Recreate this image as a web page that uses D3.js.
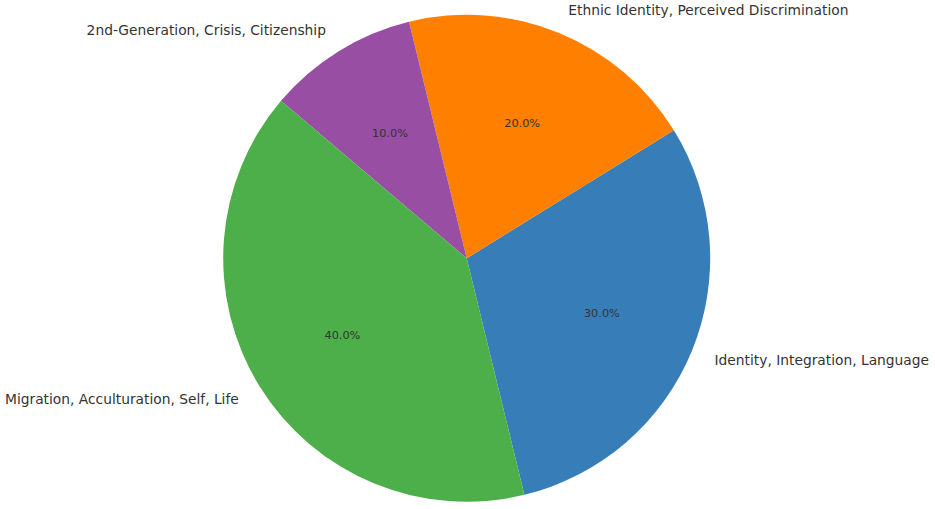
<!DOCTYPE html>
<html>
<head>
<meta charset="utf-8">
<script src="https://cdn.jsdelivr.net/npm/d3@7"></script>
<style>
  html, body { margin: 0; padding: 0; background: #fff; }
  svg { display: block; }
</style>
</head>
<body>
<svg id="chart" width="935" height="509"></svg>
<script>
const categories = [
  "Identity, Integration, Language",
  "Ethnic Identity, Perceived Discrimination",
  "2nd-Generation, Crisis, Citizenship",
  "Migration, Acculturation, Self, Life"
];
const values = [30, 20, 10, 40];
const colors = ["#377eb8", "#ff7f00", "#984ea3", "#4daf4a"];

const W = 935, H = 509;
const cx = 466.7, cy = 258.3, R = 243.5;
const startDeg = -76.3; // matplotlib-style start angle (counterclockwise from east)

const svg = d3.select("#chart");
const g = svg.append("g").attr("transform", `translate(${cx},${cy})`);

const data = categories.map((c, i) => ({ label: c, value: values[i], color: colors[i] }));
const total = d3.sum(values);

const a0 = (90 - startDeg) * Math.PI / 180;
const pie = d3.pie().sort(null).value(d => d.value)
  .startAngle(a0).endAngle(a0 - 2 * Math.PI);
const arcs = pie(data);

const arc = d3.arc().innerRadius(0).outerRadius(R);
const labelArc = d3.arc().innerRadius(R * 1.1).outerRadius(R * 1.1);
const pctArc = d3.arc().innerRadius(R * 0.6).outerRadius(R * 0.6);

g.selectAll("path.slice").data(arcs).join("path")
  .attr("class", "slice")
  .attr("d", arc)
  .attr("fill", d => d.data.color);

g.selectAll("text.pct").data(arcs).join("text")
  .attr("class", "pct")
  .attr("transform", d => `translate(${pctArc.centroid(d)})`)
  .attr("text-anchor", "middle")
  .attr("dominant-baseline", "central")
  .attr("font-family", "DejaVu Sans, sans-serif")
  .attr("font-size", "11.3px")
  .attr("fill", "#333")
  .text(d => (d.data.value / total * 100).toFixed(1) + "%");

g.selectAll("text.lbl").data(arcs).join("text")
  .attr("class", "lbl")
  .attr("transform", d => `translate(${labelArc.centroid(d)})`)
  .attr("text-anchor", d => labelArc.centroid(d)[0] >= 0 ? "start" : "end")
  .attr("dominant-baseline", "central")
  .attr("font-family", "DejaVu Sans, sans-serif")
  .attr("font-size", "13.8px")
  .attr("fill", "#333")
  .text(d => d.data.label);
</script>
</body>
</html>
